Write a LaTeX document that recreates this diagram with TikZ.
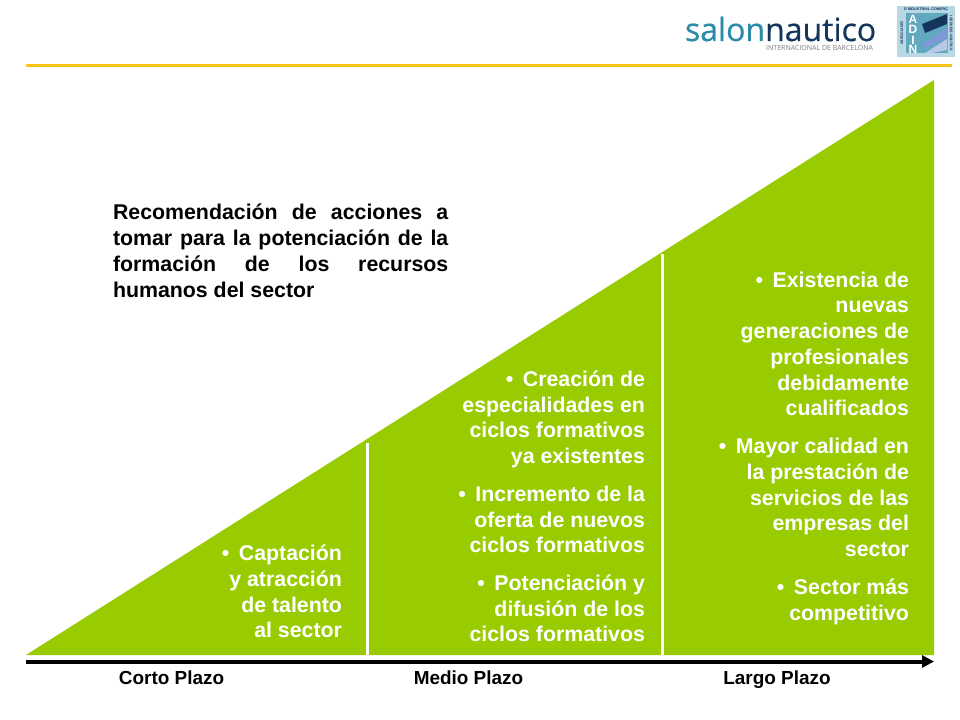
\documentclass[tikz,border=0pt]{standalone}
\usepackage{fontspec}
\setmainfont{Liberation Sans}
\newfontfamily\logofont[FakeBold=0.5]{Open Sans}
\newfontfamily\logosmall{Open Sans}
\usetikzlibrary{arrows.meta}
\definecolor{leaf}{HTML}{99CC00}
\definecolor{rule}{HTML}{F5C518}
\definecolor{logoteal}{HTML}{2A8BAA}
\definecolor{logonavy}{HTML}{14365C}
\definecolor{adinbg}{HTML}{62A9C0}
\definecolor{adinmid}{HTML}{7E9AD6}
\definecolor{adinpale}{HTML}{B9C8E6}
\tikzset{
  every node/.style={inner sep=0pt,outer sep=0pt},
  bulletbox/.style={text=white,font=\fontsize{16}{19.3}\selectfont\bfseries,align=right,anchor=north east},
  parabox/.style={text=black,font=\fontsize{16}{19.3}\selectfont\bfseries,align=justify,anchor=north west,text width=251.5pt},
  axislabel/.style={text=black,font=\fontsize{14.2}{16}\selectfont\bfseries,anchor=base},
  divider/.style={draw=white,line width=2.25pt},
  timeline/.style={draw=black,line width=3pt,-{Triangle[length=9pt,width=9pt]}},
  adinletter/.style={text=white,font=\fontsize{9}{9}\selectfont\bfseries,anchor=center},
  adinsmall/.style={text=logonavy,font=\fontsize{2.8}{3}\selectfont\bfseries,anchor=center},
}
\newcommand{\bul}{•\hspace{0.45em}}
\newcommand{\gap}{\\[9pt]}
\begin{document}
\begin{tikzpicture}[x=0.75pt,y=-0.75pt]
\useasboundingbox (0,0) rectangle (960,720);
\fill[white] (0,0) rectangle (960,720);
% header
\coordinate (ruleL) at (26,65.5);
\coordinate (ruleR) at (952,65.5);
\draw[rule,line width=2.25pt] (ruleL) -- (ruleR);
\node[anchor=base west,text=logoteal,font=\logofont\fontsize{24}{28}\selectfont] (logoA) at (685,41) {salon\textcolor{logonavy}{nautico}};
\node[anchor=base east,text=gray,font=\logosmall\fontsize{5.25}{6}\selectfont] (logoB) at (873,50.5) {INTERNACIONAL DE BARCELONA};
% ADIN logo
\fill[adinbg!45!white] (897,6) rectangle (955,57);
\fill[adinbg] (906,13) rectangle (948,53);
\fill[logonavy] (922,24) -- (947,14) -- (947,24) -- (925,33) -- cycle;
\fill[adinmid] (922,44) -- (947,28) -- (947,38) -- (926,48) -- cycle;
\fill[adinpale] (925,53) -- (947,39) -- (947,50) -- (932,53) -- cycle;
\node[adinletter] (adinA) at (913,19) {A};
\node[adinletter] (adinD) at (913,29.5) {D};
\node[adinletter] (adinI) at (913,40) {I};
\node[adinletter] (adinN) at (913,49.5) {N};
\node[adinsmall] (adinT) at (926,9.5) {D'INDUSTRIAL COMERÇ};
\node[adinsmall,rotate=90] (adinL) at (901.5,33) {ASSOCIACIÓ};
\node[adinsmall,rotate=-90] (adinR) at (951.5,33) {I SERVEIS NÀUTICS};
% triangle
\coordinate (triA) at (26,655);
\coordinate (triB) at (934,80);
\coordinate (triC) at (934,655);
\fill[leaf] (triA) -- (triB) -- (triC) -- cycle;
\coordinate (d1a) at (367.5,443);
\coordinate (d1b) at (367.5,655);
\coordinate (d2a) at (662.5,254);
\coordinate (d2b) at (662.5,655);
\draw[divider] (d1a) -- (d1b);
\draw[divider] (d2a) -- (d2b);
% timeline
\coordinate (axisL) at (26,661.5);
\coordinate (axisR) at (934,661.5);
\draw[timeline] (axisL) -- (axisR);
\node[axislabel] (corto) at (171.5,684) {Corto Plazo};
\node[axislabel] (medio) at (468.5,684) {Medio Plazo};
\node[axislabel] (largo) at (777,684) {Largo Plazo};
% paragraph
\node[parabox] (title) at (113,204.3) {Recomendación de acciones a\linebreak tomar para la potenciación de la\linebreak formación de los recursos\linebreak humanos del sector};
% bullets
\node[bulletbox] (c1) at (342,545) {\bul Captación\\y atracción\\de talento\\al sector};
\node[bulletbox] (c2) at (645,370.7) {\bul Creación de\\especialidades en\\ciclos formativos\\ya existentes\gap \bul Incremento de la\\oferta de nuevos\\ciclos formativos\gap \bul Potenciación y\\difusión de los\\ciclos formativos};
\node[bulletbox] (c3) at (909,271.8) {\bul Existencia de\\nuevas\\generaciones de\\profesionales\\debidamente\\cualificados\gap \bul Mayor calidad en\\la prestación de\\servicios de las\\empresas del\\sector\gap \bul Sector más\\competitivo};
\end{tikzpicture}
\end{document}
